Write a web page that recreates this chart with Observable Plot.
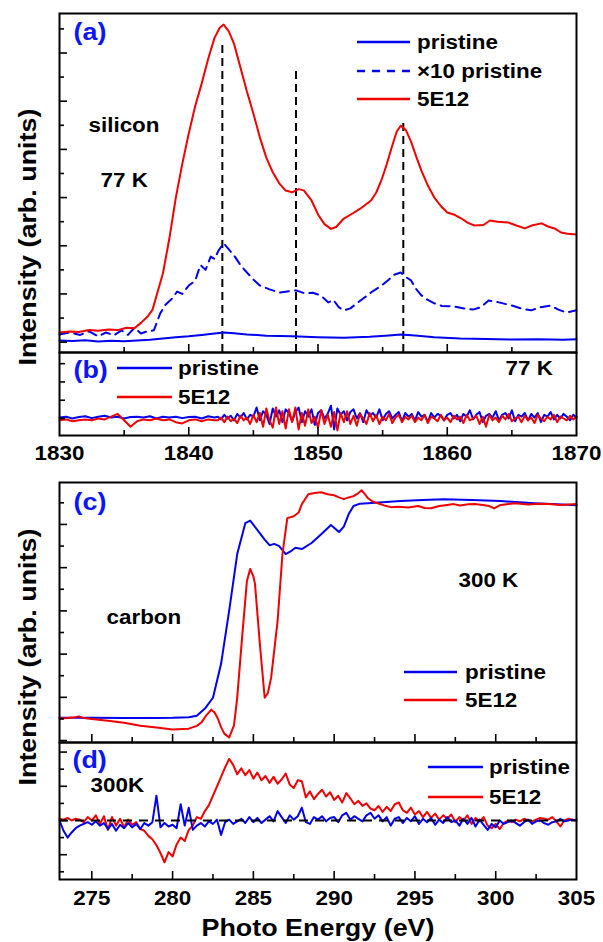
<!DOCTYPE html>
<html><head><meta charset="utf-8">
<script src="https://cdn.jsdelivr.net/npm/d3@7"></script>
<script src="https://cdn.jsdelivr.net/npm/@observablehq/plot@0.6"></script>
<style>
body{margin:0;background:#fff;}
#chart{position:relative;width:603px;height:942px;overflow:hidden;font-family:"Liberation Sans",Arial,sans-serif;font-weight:bold;}
#chart svg.panel{position:absolute;left:0;}
.leg{position:absolute;display:flex;align-items:center;height:26px;}
.leg span{display:inline-block;font-size:20px;transform:scaleX(1.12);transform-origin:left center;color:#000;white-space:nowrap;line-height:26px;}
</style></head><body><div id="chart"></div><script>
// ---------- (a) silicon, 77 K ----------
const siE_5e12 = [1830,1830.8,1831.5,1832.3,1833,1833.8,1834.5,1835.2,1835.8,1836.3,1836.8,1837.2,1837.6,1838,1838.5,1839,1839.5,1840,1840.5,1841,1841.5,1842,1842.4,1842.7,1843.1,1843.5,1844,1844.5,1845,1845.5,1846,1846.5,1847,1847.5,1848,1848.5,1848.9,1849.5,1850,1850.5,1851,1851.4,1852,1852.7,1853.3,1854.1,1854.5,1854.9,1855.3,1855.7,1856.1,1856.4,1856.8,1857.2,1857.6,1858,1858.5,1859,1859.5,1860,1860.5,1861.1,1861.6,1862.1,1862.8,1863.3,1863.9,1864.7,1865.3,1866,1866.6,1867.3,1867.8,1868.3,1868.8,1869.3,1870];
const si_5e12 = [0.40,0.44,0.42,0.50,0.47,0.52,0.50,0.60,0.58,0.80,1.05,1.35,2.10,2.85,4.30,6.00,7.40,8.66,9.80,10.73,11.75,12.64,13.05,13.18,12.90,12.39,11.40,10.40,9.49,8.50,7.66,7.05,6.59,6.29,6.22,6.35,6.30,5.88,5.30,4.90,4.70,4.78,5.13,5.35,5.55,5.88,6.20,6.71,7.35,8.08,8.75,8.98,8.80,8.32,7.70,7.12,6.50,6.00,5.65,5.38,5.30,5.13,4.95,4.84,4.86,5.05,5.00,4.97,4.85,4.72,4.85,4.93,4.80,4.72,4.55,4.50,4.47];
const siE_pristine = [1830,1831,1832,1833,1834,1835,1836,1837,1838,1839,1840,1841,1842,1842.7,1843.5,1844.5,1846,1848,1850,1852,1854,1855.5,1856.4,1857.5,1859,1861,1863,1865,1867,1869,1870];
const si_pristine = [0.07,0.05,0.08,0.03,0.06,0.04,0.07,0.10,0.15,0.20,0.24,0.30,0.36,0.40,0.37,0.32,0.27,0.24,0.20,0.18,0.22,0.28,0.32,0.28,0.20,0.15,0.13,0.11,0.12,0.10,0.12];
const siE_x10 = [1830,1830.8,1831.6,1832.3,1833,1833.6,1834.2,1834.8,1835.3,1835.8,1836.3,1836.8,1837.3,1837.8,1838.2,1838.7,1839.1,1839.5,1840,1840.5,1840.9,1841.3,1841.7,1842,1842.3,1842.7,1843.1,1843.5,1844,1844.5,1845,1845.5,1846.2,1847,1847.8,1848.3,1849,1849.6,1850.2,1850.8,1851.2,1851.6,1852,1852.5,1853,1853.6,1854.2,1854.8,1855.4,1855.9,1856.4,1856.8,1857.2,1857.6,1858,1858.5,1859,1859.6,1860.5,1861.3,1862,1862.6,1863.2,1864,1865,1865.7,1866.5,1867.2,1868,1868.6,1869.2,1870];
const si_x10 = [0.32,0.40,0.30,0.45,0.24,0.40,0.28,0.49,0.30,0.60,0.36,0.45,0.49,1.20,1.55,1.80,2.10,2.00,2.35,2.55,3.20,3.00,3.55,3.45,3.80,4.10,3.85,3.60,3.20,2.89,2.60,2.35,2.20,2.06,2.12,2.15,2.02,2.05,1.94,1.65,1.75,1.45,1.32,1.40,1.61,1.85,2.10,2.30,2.56,2.80,2.89,2.70,2.56,2.20,1.94,1.75,1.61,1.50,1.48,1.40,1.35,1.45,1.73,1.65,1.52,1.40,1.32,1.45,1.52,1.35,1.23,1.32];
const siRefE = [1842.6, 1848.3, 1856.6];
const siRefTop = [12.39, 11.27, 9.28];

// ---------- (b) silicon difference, 77 K (uniformly sampled) ----------
const bLowStart = 1830, bLowStep = 0.5;
const bLow_pristine = [0.05,0.10,0.00,0.08,0.12,0.02,0.10,0.15,0.05,0.10,0.00,0.08,0.10,0.05,0.12,0.00,0.10,0.06,0.10,0.02,0.08,0.10,0.00,0.12,0.05];
const bLow_5e12 = [-0.10,-0.05,-0.15,-0.10,-0.05,-0.10,0.00,-0.05,0.10,0.25,-0.10,-0.45,-0.15,-0.05,-0.10,0.00,-0.10,-0.05,-0.20,-0.27,-0.10,-0.05,-0.15,-0.05,-0.10];
const bHighStart = 1842.25, bHighStep = 0.25;
const bHigh_pristine = [0.10,-0.05,0.20,0.00,0.15,-0.10,0.25,0.05,0.30,-0.05,0.20,0.10,
 0.60,-0.10,0.40,0.20,-0.30,0.55,0.10,0.45,-0.20,0.50,0.30,-0.15,
 0.35,0.60,-0.20,0.40,0.10,0.50,-0.35,0.30,0.45,0.00,0.25,0.70,
 -0.60,0.55,0.20,0.40,-0.10,0.35,0.50,0.00,0.30,-0.20,0.45,0.15,
 0.30,0.05,0.50,-0.10,0.25,0.40,0.00,0.20,0.35,-0.15,0.30,0.10,
 0.25,-0.10,0.35,0.10,0.20,-0.20,0.30,0.05,0.25,0.15,-0.10,0.20,
 0.30,0.00,0.20,-0.15,0.25,0.10,0.45,-0.05,0.20,0.35,-0.20,0.15,
 0.25,0.05,0.40,-0.10,0.20,0.30,0.00,0.45,-0.15,0.20,0.10,0.30,
 -0.10,0.25,0.05,0.30,-0.20,0.20,0.10,0.35,-0.05,0.20,0.00,0.25,
 0.10,-0.10,0.20,0.05];
const bHigh_5e12 = [-0.10,0.05,-0.20,0.10,-0.15,0.00,-0.25,0.15,-0.10,0.05,-0.30,0.20,
 -0.20,0.30,-0.45,0.55,-0.10,-0.50,0.60,-0.30,0.40,-0.55,0.50,-0.20,
 0.60,-0.60,0.30,-0.40,0.50,-0.25,0.10,-0.50,0.45,-0.30,0.20,-0.45,
 0.35,-0.65,0.30,-0.20,0.40,-0.30,0.15,-0.40,0.25,0.00,-0.30,0.30,
 -0.15,0.20,-0.30,0.10,-0.10,0.25,-0.25,0.05,0.20,-0.20,0.10,-0.05,
 0.15,-0.20,0.05,-0.10,0.20,-0.25,0.10,0.00,-0.15,0.20,-0.10,0.05,
 -0.20,0.15,-0.05,0.10,-0.25,0.20,-0.10,0.00,0.15,-0.30,0.10,-0.45,
 0.20,-0.10,0.05,-0.20,0.15,-0.05,0.25,-0.15,0.00,0.10,-0.20,0.15,
 -0.10,0.05,-0.25,0.20,0.00,-0.15,0.10,-0.05,0.20,-0.20,0.10,0.00,
 -0.10,0.15,-0.05,0.10];

// ---------- (c) carbon, 300 K ----------
const cE_pristine = [273,275,277,279,280,281,281.5,282,282.5,283,283.5,284,284.5,284.8,285.3,285.7,286,286.3,286.6,287,287.3,287.6,288,288.6,289.2,289.8,290.3,290.6,290.9,291.2,291.6,292.1,293,294.1,295.5,296.8,298.5,300.3,302.4,303.8,305];
const c_pristine = [1.06,1.06,1.04,1.04,1.05,1.08,1.15,1.48,1.98,3.55,6.00,8.63,10.06,10.18,9.69,9.30,9.04,9.10,9.00,8.63,8.75,8.92,8.86,9.14,9.55,9.97,9.65,9.90,10.48,10.85,10.96,10.98,11.03,11.08,11.13,11.17,11.13,11.08,10.98,10.93,10.89];
const cE_5e12 = [273,273.5,274,274.2,274.5,275,276,277,278,279,280,281,281.5,281.8,282.1,282.4,282.6,282.8,283,283.2,283.5,283.8,284,284.3,284.6,284.8,285,285.1,285.4,285.7,285.9,286.1,286.5,286.8,287.1,287.5,287.8,288,288.4,288.8,289.2,289.6,290,290.3,290.6,290.9,291.2,291.5,291.7,291.9,292.1,292.4,292.7,293.1,293.5,294,294.6,295.2,295.6,296,296.5,297,297.4,297.8,298.3,298.7,299.2,299.6,299.9,300.3,300.8,301.2,302,302.7,303.3,304,305];
const c_5e12 = [1.02,1.04,1.08,1.12,1.04,1.00,0.92,0.82,0.69,0.60,0.51,0.55,0.68,0.85,1.18,1.43,1.30,1.02,0.62,0.32,0.14,0.70,1.98,4.75,7.38,7.94,7.60,7.25,4.48,1.98,2.20,2.91,5.54,8.63,10.29,10.38,10.55,10.94,11.40,11.45,11.49,11.40,11.35,11.25,11.17,11.25,11.31,11.45,11.58,11.40,11.21,11.05,10.98,10.88,10.80,10.82,10.78,10.85,10.76,10.75,10.85,10.90,10.94,10.88,10.93,10.94,10.90,10.85,10.74,10.90,10.95,10.98,10.92,10.96,10.94,10.90,10.94];

// ---------- (d) carbon difference, 300 K (uniformly sampled) ----------
const dStart = 273, dStep = 0.25;
const d_5e12 = [0.10,0.05,0.15,0.00, 0.10,0.05,-0.10,0.20, 0.00,0.30,-0.20,0.25, -0.55,0.20,-0.30,0.10,
 -0.40,0.05,-0.25,-0.10, -0.50,-0.60,-0.90,-1.10, -1.45,-1.90,-2.45,-1.85, -2.10,-1.40,-1.00,-1.20,
 -0.55,-0.30,0.20,0.10, 0.55,0.90,1.45,2.00, 2.55,3.10,3.60,3.25, 2.70,3.05,2.65,2.95,
 2.45,2.80,2.35,2.60, 2.20,2.55,2.15,2.40, 2.75,2.10,1.90,2.35, 2.30,1.35,1.70,1.25,
 1.55,1.80,1.40,1.65, 1.20,1.45,1.05,1.60, 1.30,0.95,1.15,0.85, 1.00,0.70,0.60,0.85,
 0.50,0.80,0.55,0.95, 1.05,0.60,0.45,0.75, 0.35,0.55,0.20,0.50, 0.15,0.40,0.05,0.30,
 0.10,0.35,-0.10,0.20, 0.00,0.30,-0.20,0.15, -0.05,0.20,-0.30,-0.45, -0.20,-0.50,-0.15,0.00,
 -0.10,0.05,-0.05,0.10, 0.00,-0.05,0.05,0.15, 0.10,0.05,0.20,-0.05, -0.35,0.00,0.10,0.05, 0.00];
const d_pristine = [0.00,-0.60,-1.00,-0.70, -0.45,-0.30,-0.20,-0.10, -0.25,-0.05,-0.30,-0.15, -0.50,-0.20,-0.60,-0.25,
 -0.45,-0.15,-0.40,-0.20, -0.50,-0.15,-0.30,-0.10, 1.45,-0.40,-0.15,-0.35, -0.25,-0.45,0.95,-0.30,
 0.75,-0.55,-0.30,-0.15, -0.35,-0.05,-0.20,0.05, -0.85,-0.10,0.05,-0.20, -0.05,0.10,-0.15,0.20,
 -0.10,0.15,-0.15,0.05, 0.25,-0.05,0.55,0.20, -0.15,0.30,0.05,0.25, 0.75,-0.10,-0.20,0.20,
 0.05,0.25,-0.05,0.15, 0.20,-0.10,0.30,0.45, 0.05,0.25,0.10,-0.05, 0.30,0.45,0.10,0.30,
 -0.05,0.20,-0.30,0.10, 0.20,-0.15,0.15,-0.05, 0.25,-0.20,0.10,-0.10, 0.15,-0.25,0.05,-0.15,
 0.20,-0.10,0.00,-0.30, 0.10,-0.20,0.15,-0.35, 0.05,-0.25,-0.55,-0.20, -0.40,0.00,-0.20,-0.10,
 0.00,-0.15,-0.30,-0.10, 0.05,-0.20,-0.05,0.00, -0.15,-0.25,-0.10,-0.05, 0.10,-0.05,0.00,0.05, 0.00];
const dZero = [0];

// ---------- axes ----------
const siTickLabels = [1830,1840,1850,1860,1870];
const siXMajor = [1840,1850,1860], siXMinor = [1835,1845,1855,1865];
const cTickLabels = [275,280,285,290,295,300,305];
const cXMajor = [275,280,285,290,295,300], cXMinor = [277.5,282.5,287.5,292.5,297.5,302.5];
const aYMajor = [0,2,4,6,8,10,12], aYMinor = [1,3,5,7,9,11,13];
const bYTicks = [0,1,2,3];
const cYMajor = [0,2,4,6,8,10], cYMinor = [1,3,5,7,9,11];
const dYMajor = [-2,0,2,4], dYMinor = [-3,-1,1,3];

// ---------- build ----------
const BLUE = "#0000ee", RED = "#f00000", LBLUE = "#0a14ff";
const pts = (E, V) => E.map((e, i) => ({e, v: V[i]}));
const grid = (s, st, V) => V.map((v, i) => ({e: s + i * st, v}));
const chart = document.getElementById("chart");
const base = {width: 603, marginLeft: 59, marginRight: 27,
  style: {background: "transparent", overflow: "visible", fontFamily: "'Liberation Sans', Arial, sans-serif", fontWeight: "bold", fontSize: "20px", color: "#000"}};
const blank = () => "";
function yTicks(major, minor) {
  return [Plot.axisY({ticks: major, tickSize: -8, tickFormat: blank, label: null, strokeWidth: 1.6}),
          Plot.axisY({ticks: minor, tickSize: -5, tickFormat: blank, label: null, strokeWidth: 1.6})];
}
function xTicks(major, minor) {
  return [Plot.axisX({anchor: "bottom", ticks: major, tickSize: -8, tickFormat: blank, label: null, strokeWidth: 1.6}),
          Plot.axisX({anchor: "bottom", ticks: minor, tickSize: -5, tickFormat: blank, label: null, strokeWidth: 1.6})];
}
const note = (t, dx, dy, opts = {}) => Plot.text([t], {frameAnchor: "top-left", text: d => d, dx, dy, textAnchor: "start", lineAnchor: "middle", fontSize: 20, fontWeight: "bold", fill: "#000", ...opts});
const yTitle = (dy) => Plot.text(["Intensity (arb. units)"], {frameAnchor: "left", text: d => d, rotate: -90, dx: -31, dy, textAnchor: "start", lineAnchor: "middle", fontSize: 24, fontWeight: "bold", fill: "#000"});
function place(svg, top) {
  svg.classList.add("panel");
  svg.style.top = top + "px";
  chart.appendChild(svg);
  svg.querySelectorAll("text").forEach(t => {
    if (!t.textContent.trim()) return;
    const L = t.getComputedTextLength();
    if (L > 0) { t.setAttribute("textLength", (L * 1.12).toFixed(1)); t.setAttribute("lengthAdjust", "spacingAndGlyphs"); }
  });
}

const aDom = [-0.43, 13.64];
const siRef = siRefE.map((e, i) => ({e, top: siRefTop[i]}));
place(Plot.plot({...base, height: 352, marginTop: 13, marginBottom: 0,
  x: {domain: [1830, 1870], label: null}, y: {domain: aDom, label: null},
  marks: [
    Plot.ruleX(siRef, {x: "e", y1: aDom[0], y2: "top", stroke: "#000", strokeWidth: 2, strokeDasharray: "8,5"}),
    Plot.line(pts(siE_pristine, si_pristine), {x: "e", y: "v", stroke: BLUE, strokeWidth: 2}),
    Plot.line(pts(siE_x10, si_x10), {x: "e", y: "v", stroke: BLUE, strokeWidth: 2, strokeDasharray: "9,6"}),
    Plot.line(pts(siE_5e12, si_5e12), {x: "e", y: "v", stroke: RED, strokeWidth: 2}),
    Plot.frame({stroke: "#000", strokeWidth: 2}),
    ...yTicks(aYMajor, aYMinor), ...xTicks(siXMajor, siXMinor),
    note("(a)", 14, 19, {fill: LBLUE, fontSize: 24}),
    note("silicon", 29, 112),
    note("77 K", 41, 167),
    yTitle(182.5)
  ]}), 0);

const bDom = [-0.93, 3.61];
place(Plot.plot({...base, height: 118, marginTop: 0, marginBottom: 35,
  x: {domain: [1830, 1870], label: null}, y: {domain: bDom, label: null},
  marks: [
    Plot.line(grid(bLowStart, bLowStep, bLow_pristine).concat(grid(bHighStart, bHighStep, bHigh_pristine)), {x: "e", y: "v", stroke: BLUE, strokeWidth: 2}),
    Plot.line(grid(bLowStart, bLowStep, bLow_5e12).concat(grid(bHighStart, bHighStep, bHigh_5e12)), {x: "e", y: "v", stroke: RED, strokeWidth: 2}),
    Plot.frame({stroke: "#000", strokeWidth: 2}),
    Plot.axisY({ticks: bYTicks, tickSize: -6, tickFormat: blank, label: null, strokeWidth: 1.6}),
    ...xTicks(siXMajor, siXMinor),
    Plot.axisX({anchor: "bottom", ticks: siTickLabels, tickSize: 0, tickPadding: 10, tickFormat: d => `${d}`, label: null, fontSize: 20}),
    note("(b)", 14, 18, {fill: LBLUE, fontSize: 24}),
    note("77 K", 446, 16)
  ]}), 352);

const cDom = [-0.09, 11.94];
place(Plot.plot({...base, height: 272, marginTop: 12, marginBottom: 0,
  x: {domain: [273, 305], label: null}, y: {domain: cDom, label: null},
  marks: [
    Plot.line(pts(cE_pristine, c_pristine), {x: "e", y: "v", stroke: BLUE, strokeWidth: 2}),
    Plot.line(pts(cE_5e12, c_5e12), {x: "e", y: "v", stroke: RED, strokeWidth: 2}),
    Plot.frame({stroke: "#000", strokeWidth: 2}),
    ...yTicks(cYMajor, cYMinor), ...xTicks(cXMajor, cXMinor),
    note("(c)", 14, 20, {fill: LBLUE, fontSize: 24}),
    note("carbon", 47, 135),
    note("300 K", 399, 98),
    yTitle(173)
  ]}), 470);

const dDom = [-3.45, 4.56];
place(Plot.plot({...base, height: 200, marginTop: 0, marginBottom: 63,
  x: {domain: [273, 305], label: null}, y: {domain: dDom, label: null},
  marks: [
    Plot.line(grid(dStart, dStep, d_5e12), {x: "e", y: "v", stroke: RED, strokeWidth: 2}),
    Plot.line(grid(dStart, dStep, d_pristine), {x: "e", y: "v", stroke: BLUE, strokeWidth: 2}),
    Plot.ruleY(dZero, {stroke: "#000", strokeWidth: 2, strokeDasharray: "9,7"}),
    Plot.frame({stroke: "#000", strokeWidth: 2}),
    ...yTicks(dYMajor, dYMinor), ...xTicks(cXMajor, cXMinor),
    Plot.axisX({anchor: "bottom", ticks: cTickLabels, tickSize: 0, tickPadding: 11, tickFormat: d => `${d}`, label: null, fontSize: 20}),
    note("(d)", 13, 18, {fill: LBLUE, fontSize: 24}),
    note("300K", 31, 43),
    Plot.text(["Photo Energy (eV)"], {frameAnchor: "bottom", text: d => d, dy: 49, fontSize: 24, fontWeight: "bold", fill: "#000", lineAnchor: "middle"})
  ]}), 742);

// ---------- legends ----------
function legend(rows, x0, x1, tx) {
  for (const r of rows) {
    const div = document.createElement("div");
    div.className = "leg";
    div.style.left = x0 + "px";
    div.style.top = (r.y - 13) + "px";
    const w = x1 - x0;
    div.innerHTML = `<svg width="${w}" height="6" style="margin-right:${tx - x1}px"><line x1="0" x2="${w}" y1="3" y2="3" stroke="${r.color}" stroke-width="2.5" ${r.dash ? `stroke-dasharray="${r.dash}"` : ""}/></svg><span>${r.label}</span>`;
    chart.appendChild(div);
  }
}
legend([{y: 42, color: BLUE, label: "pristine"}, {y: 71, color: BLUE, dash: "8,7", label: "×10 pristine"}, {y: 99, color: RED, label: "5E12"}], 357, 410, 417);
legend([{y: 368, color: BLUE, label: "pristine"}, {y: 397, color: RED, label: "5E12"}], 117, 172, 178);
legend([{y: 672, color: BLUE, label: "pristine"}, {y: 700, color: RED, label: "5E12"}], 404, 457, 465);
legend([{y: 767, color: BLUE, label: "pristine"}, {y: 797, color: RED, label: "5E12"}], 428, 483, 489);
</script></body></html>
